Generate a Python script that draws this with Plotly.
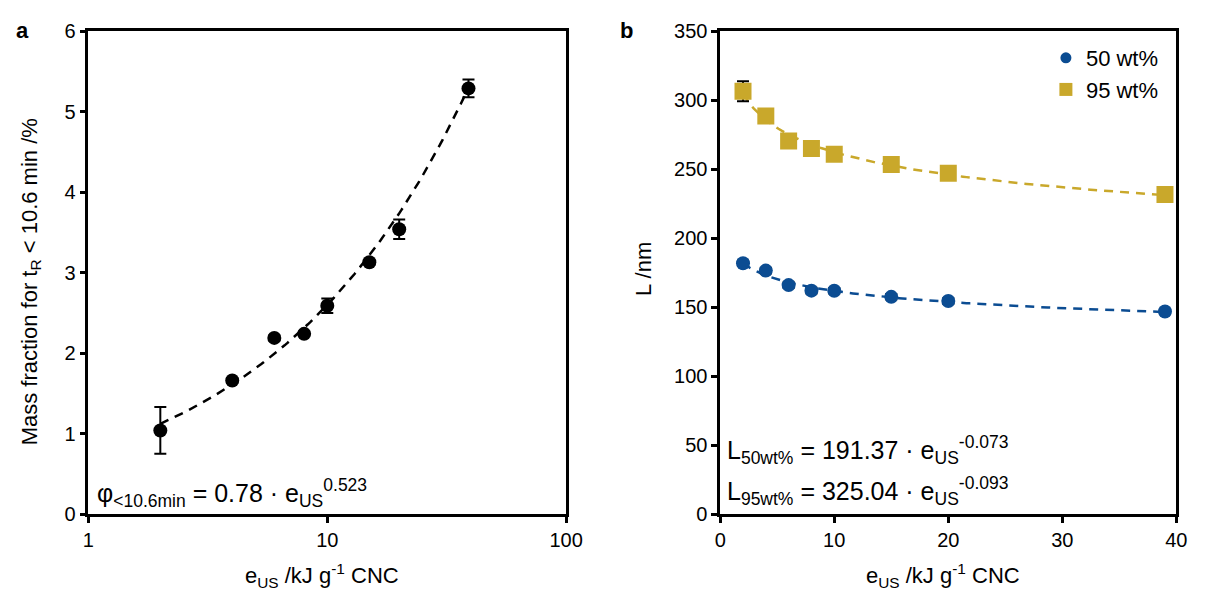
import numpy as np
import plotly.graph_objects as go

# ---- data -------------------------------------------------------------
# (a) mass fraction of species eluting before 10.6 min vs. specific energy
e_us_a = [2, 4, 6, 8, 10, 15, 20, 39]
phi_a = [1.04, 1.66, 2.19, 2.24, 2.59, 3.13, 3.54, 5.29]
phi_err = [0.29, 0.03, 0.03, 0.03, 0.09, 0.03, 0.12, 0.11]
fit_a = (0.78, 0.523)

# (b) particle length vs. specific energy for two concentrations
e_us_b = [2, 4, 6, 8, 10, 15, 20, 39]
len_50 = [181.8, 176.5, 166.0, 162.0, 161.9, 157.5, 154.5, 146.9]
len_50_err = [2, 2, 2, 2, 2, 2, 2, 2]
len_95 = [306.5, 288.5, 270.4, 265.0, 260.8, 253.4, 247.1, 231.7]
len_95_err = [7.3, 2, 2, 2, 2, 2, 3, 2]
fit_50 = (191.37, -0.073)
fit_95 = (325.04, -0.093)

series_names = ["50 wt%", "95 wt%"]

# ---- styling ----------------------------------------------------------
W, H = 1213, 609
FONT = "Arial, 'Liberation Sans', sans-serif"
BLUE = "#0B4C92"
GOLD = "#C9A82B"


def px_x(p):
    return p / W


def px_y(p):
    return 1 - p / H


def power_fit(coef, x0, x1, log=True):
    a, b = coef
    xs = np.geomspace(x0, x1, 120) if log else np.linspace(x0, x1, 120)
    return xs, a * xs ** b


fig = go.Figure()

# panel a ------------------------------------------------------------------
xa, ya = power_fit(fit_a, min(e_us_a), max(e_us_a))
fig.add_trace(go.Scatter(x=xa, y=ya, mode="lines", showlegend=False,
                         line=dict(color="black", width=2.5, dash="9px,7px"),
                         xaxis="x", yaxis="y", hoverinfo="skip"))
fig.add_trace(go.Scatter(x=e_us_a, y=phi_a, mode="markers", showlegend=False,
                         marker=dict(color="black", size=14, symbol="circle"),
                         error_y=dict(type="data", array=phi_err, color="black",
                                      thickness=2, width=6),
                         xaxis="x", yaxis="y"))

# panel b ------------------------------------------------------------------
x50, y50 = power_fit(fit_50, min(e_us_b), max(e_us_b), log=False)
x95, y95 = power_fit(fit_95, min(e_us_b), max(e_us_b), log=False)
fig.add_trace(go.Scatter(x=x95, y=y95, mode="lines", showlegend=False,
                         line=dict(color=GOLD, width=2.5, dash="9px,7px"),
                         xaxis="x2", yaxis="y2", hoverinfo="skip"))
fig.add_trace(go.Scatter(x=x50, y=y50, mode="lines", showlegend=False,
                         line=dict(color=BLUE, width=2.5, dash="9px,7px"),
                         xaxis="x2", yaxis="y2", hoverinfo="skip"))
fig.add_trace(go.Scatter(x=e_us_b, y=len_95, mode="markers", showlegend=False,
                         marker=dict(color=GOLD, size=17, symbol="square"),
                         error_y=dict(type="data", array=len_95_err, color="black",
                                      thickness=2, width=6),
                         xaxis="x2", yaxis="y2"))
fig.add_trace(go.Scatter(x=e_us_b, y=len_50, mode="markers", showlegend=False,
                         marker=dict(color=BLUE, size=14, symbol="circle"),
                         error_y=dict(type="data", array=len_50_err, color="black",
                                      thickness=2, width=6),
                         xaxis="x2", yaxis="y2"))

# legend entries (smaller symbols than the plotted markers)
fig.add_trace(go.Scatter(x=[None], y=[None], mode="markers", name=series_names[0],
                         marker=dict(color=BLUE, size=11, symbol="circle"),
                         xaxis="x2", yaxis="y2"))
fig.add_trace(go.Scatter(x=[None], y=[None], mode="markers", name=series_names[1],
                         marker=dict(color=GOLD, size=13, symbol="square"),
                         xaxis="x2", yaxis="y2"))

axis_common = dict(showline=True, linecolor="black", linewidth=2.5, mirror=True,
                   ticks="outside", ticklen=6, tickwidth=2.5, tickcolor="black",
                   showgrid=False, zeroline=False,
                   tickfont=dict(family=FONT, size=20, color="black"))

fig.update_layout(
    width=W, height=H,
    margin=dict(l=0, r=0, t=0, b=0),
    paper_bgcolor="white", plot_bgcolor="white",
    font=dict(family=FONT, color="black"),
    xaxis=dict(domain=[px_x(84), px_x(571)], type="log", range=[0, 2],
               tickvals=[1, 10, 100], ticktext=["1", "10", "100"],
               anchor="y", **axis_common),
    yaxis=dict(domain=[px_y(522), px_y(21)], range=[0, 6], dtick=1,
               anchor="x", **axis_common),
    xaxis2=dict(domain=[px_x(728), px_x(1193)], range=[0, 40], dtick=10,
                anchor="y2", **axis_common),
    yaxis2=dict(domain=[px_y(522), px_y(21)], range=[0, 350], dtick=50,
                anchor="x2", **axis_common),
    showlegend=True,
    legend=dict(x=px_x(1060), y=px_y(27), xanchor="left", yanchor="top",
                bgcolor="rgba(0,0,0,0)", borderwidth=0,
                font=dict(family=FONT, size=22, color="black"),
                itemwidth=30, tracegroupgap=0),
)

ann = []
# panel letters
ann.append(dict(text="<b>a</b>", x=px_x(17), y=px_y(20)))
ann.append(dict(text="<b>b</b>", x=px_x(632), y=px_y(20)))
# axis titles
ann.append(dict(text="Mass fraction for t<sub>R</sub> &lt; 10.6 min /%",
                x=px_x(25), y=px_y(281), textangle=-90))
ann.append(dict(text="L /nm", x=px_x(650), y=px_y(268), textangle=-90))
xtitle = "e<sub>US</sub> /kJ g<sup>-1</sup> CNC"
ann.append(dict(text=xtitle, x=px_x(322), y=px_y(586)))
ann.append(dict(text=xtitle, x=px_x(955), y=px_y(586)))
for a in ann:
    a.update(xref="paper", yref="paper", showarrow=False,
             xanchor="center", yanchor="middle",
             font=dict(family=FONT, size=22, color="black"))

# fitted equations
eqs = [
    ("φ<sub>&lt;10.6min</sub> = %.2f · e<sub>US</sub><sup>%.3f</sup>" % fit_a, 91, 500),
    ("L<sub>50wt%%</sub> = %.2f · e<sub>US</sub><sup>%.3f</sup>" % fit_50, 733, 455),
    ("L<sub>95wt%%</sub> = %.2f · e<sub>US</sub><sup>%.3f</sup>" % fit_95, 733, 498),
]
for text, xp, yp in eqs:
    ann.append(dict(text=text, x=px_x(xp), y=px_y(yp), xref="paper", yref="paper",
                    showarrow=False, xanchor="left", yanchor="middle",
                    font=dict(family=FONT, size=25, color="black")))

fig.update_layout(annotations=ann)
fig.write_html("out.html")
